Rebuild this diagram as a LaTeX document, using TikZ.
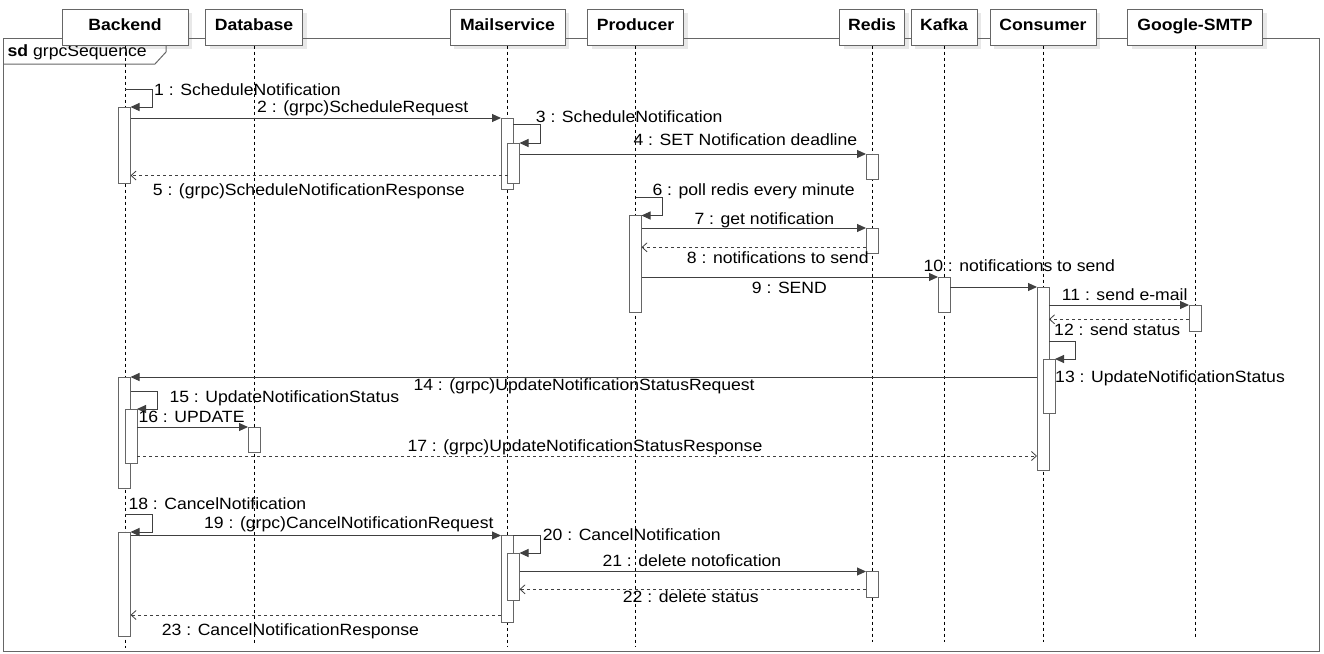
\documentclass[tikz,border=0pt]{standalone}
\usepackage{fontspec}
\setmainfont{Liberation Sans}[FakeStretch=1.08]
\usetikzlibrary{arrows.meta}
\definecolor{linec}{HTML}{404040}
\definecolor{boxc}{HTML}{666666}
\definecolor{shadowc}{HTML}{E8E8E8}
\definecolor{txt}{HTML}{000000}
\begin{document}
\begin{tikzpicture}[x=1pt,y=-1pt,
  head/.style={draw=boxc, fill=white, line width=1pt, minimum height=36pt, inner sep=0pt},
  headtxt/.style={anchor=base, inner sep=0pt, text=txt, font=\bfseries\fontsize{16.3}{18}\selectfont},
  life/.style={draw=black, line width=0.8pt, dash pattern=on 3pt off 3pt},
  act/.style={draw=boxc, fill=white, line width=1pt, minimum width=12pt, inner sep=0pt, outer sep=0pt},
  msg/.style={draw=linec, line width=1pt, -{Triangle[length=9pt,width=8pt]}},
  ret/.style={draw=linec, line width=0.8pt, dash pattern=on 3pt off 3pt, -{Straight Barb[length=5pt,width=9pt,line width=0.8pt]}},
  lbl/.style={anchor=base west, inner sep=0pt, text=txt, font=\fontsize{16.3}{18}\selectfont},
  framec/.style={draw=boxc, line width=1pt},
]
\useasboundingbox (0,0) rectangle (1324,653);
% shadows
\foreach \w/\x in {126/125, 97/254, 115/507.5, 96/635.5, 65/872, 66/944, 106/1043, 135/1195}{
  \fill[shadowc] ({\x-\w/2+4},13) rectangle ({\x+\w/2+4},49);
}
% frame
\draw[framec] (3,38) rectangle (1319,651);
\draw[framec] (3,64) -- (155,64) -- (166,52) -- (166,38);
\node[lbl] (sd) at (7.5,56.5) {\textbf{sd} grpcSequence};
% header boxes
\path
  (125,27)    node[head, minimum width=126pt] (hB) {}
  (254,27)    node[head, minimum width=97pt]  (hD) {}
  (507.5,27)  node[head, minimum width=115pt] (hM) {}
  (635.5,27)  node[head, minimum width=96pt]  (hP) {}
  (872,27)    node[head, minimum width=65pt]  (hR) {}
  (944,27)    node[head, minimum width=66pt]  (hK) {}
  (1043,27)   node[head, minimum width=106pt] (hC) {}
  (1195,27)   node[head, minimum width=135pt] (hG) {};
\foreach \n/\t in {hB/Backend, hD/Database, hM/Mailservice, hP/Producer, hR/Redis, hK/Kafka, hC/Consumer, hG/Google-SMTP}{
  \node[headtxt] at ([yshift=-3.7pt]\n.center) {\t};
}
% lifelines
\draw[life] (hB.south) -- (125,648);
\draw[life] (hD.south) -- (254,643);
\draw[life] (hM.south) -- (507.5,647);
\draw[life] (hP.south) -- (635.5,646);
\draw[life] (hR.south) -- (872,642);
\draw[life] (hK.south) -- (944,642);
\draw[life] (hC.south) -- (1043,642);
\draw[life] (hG.south) -- (1195,637);
% activation bars
\newcommand\actbar[4]{\node[act, minimum height={#4-#3}] (#1) at (#2,{(#3+#4)/2}) {};}
\actbar{b1}{124.5}{107}{183}
\actbar{b2}{124.5}{377}{488}
\actbar{b2b}{131}{409}{463}
\actbar{b3}{124.5}{532}{636}
\actbar{d1}{254}{427}{452}
\actbar{m1}{507}{118}{189}
\actbar{m1b}{513.5}{143}{183}
\actbar{m2}{507}{535.5}{622}
\actbar{m2b}{513.5}{553}{600}
\actbar{p1}{635.5}{215.5}{312}
\actbar{r1}{872}{154}{179}
\actbar{r2}{872}{228}{253}
\actbar{r3}{872}{571.5}{597}
\actbar{k1}{944}{277}{312}
\actbar{c1}{1043}{287}{470}
\actbar{c1b}{1049}{359}{413}
\actbar{g1}{1195}{305}{331}
% messages
\draw[msg] (hB.south |- 0,89) -- (152.7,89) -- (152.7,107) -- (b1.north east);
\draw[msg] (b1.east |- 0,118) -- (m1.north west);
\draw[msg] (m1.east |- 0,124.7) -- (540,124.7) -- (540,143) -- (m1b.north east);
\draw[msg] (m1b.east |- 0,154) -- (r1.north west);
\draw[ret] (m1b.west |- 0,175.5) -- (b1.east |- 0,175.5);
\draw[msg] (hP.south |- 0,197.3) -- (662.3,197.3) -- (662.3,215.5) -- (p1.north east);
\draw[msg] (p1.east |- 0,228) -- (r2.north west);
\draw[ret] (r2.west |- 0,247.3) -- (p1.east |- 0,247.3);
\draw[msg] (p1.east |- 0,277) -- (k1.north west);
\draw[msg] (k1.east |- 0,287) -- (c1.north west);
\draw[msg] (c1.east |- 0,305) -- (g1.north west);
\draw[ret] (g1.west |- 0,319.3) -- (c1.east |- 0,319.3);
\draw[msg] (c1.east |- 0,341.3) -- (1075,341.3) -- (1075,359) -- (c1b.north east);
\draw[msg] (c1.west |- 0,377) -- (b2.north east);
\draw[msg] (b2.east |- 0,391.7) -- (157.3,391.7) -- (157.3,409) -- (b2b.north east);
\draw[msg] (b2b.east |- 0,427) -- (d1.north west);
\draw[ret] (b2b.east |- 0,456) -- (c1.west |- 0,456);
\draw[msg] (hB.south |- 0,514) -- (152.3,514) -- (152.3,532) -- (b3.north east);
\draw[msg] (b3.east |- 0,535.5) -- (m2.north west);
\draw[msg] (m2.east |- 0,535.7) -- (540,535.7) -- (540,553) -- (m2b.north east);
\draw[msg] (m2b.east |- 0,571.5) -- (r3.north west);
\draw[ret] (r3.west |- 0,589.3) -- (m2b.east |- 0,589.3);
\draw[ret] (m2.west |- 0,615) -- (b3.east |- 0,615);
% labels
\node[lbl] (t1)  at (154,95)    {1 : ScheduleNotification};
\node[lbl] (t2)  at (257,112)   {2 : (grpc)ScheduleRequest};
\node[lbl] (t3)  at (535.7,122.7) {3 : ScheduleNotification};
\node[lbl] (t4)  at (633.3,145) {4 : SET Notification deadline};
\node[lbl] (t5)  at (152.7,195) {5 : (grpc)ScheduleNotificationResponse};
\node[lbl] (t6)  at (652.3,195) {6 : poll redis every minute};
\node[lbl] (t7)  at (694.3,224) {7 : get notification};
\node[lbl] (t8)  at (686.7,263.3) {8 : notifications to send};
\node[lbl] (t9)  at (751.7,293.3) {9 : SEND};
\node[lbl] (t10) at (923.3,271.7) {10 : notifications to send};
\node[lbl] (t11) at (1061.7,300.7) {11 : send e-mail};
\node[lbl] (t12) at (1054,335.7) {12 : send status};
\node[lbl] (t13) at (1055,382.7) {13 : UpdateNotificationStatus};
\node[lbl] (t14) at (413.3,390.7) {14 : (grpc)UpdateNotificationStatusRequest};
\node[lbl] (t15) at (169.3,402.3) {15 : UpdateNotificationStatus};
\node[lbl] (t16) at (138.3,422.3) {16 : UPDATE};
\node[lbl] (t17) at (407.3,451.7) {17 : (grpc)UpdateNotificationStatusResponse};
\node[lbl] (t18) at (128.3,509.3) {18 : CancelNotification};
\node[lbl] (t19) at (204,528.3) {19 : (grpc)CancelNotificationRequest};
\node[lbl] (t20) at (542.7,540.7) {20 : CancelNotification};
\node[lbl] (t21) at (602.3,566.7) {21 : delete notofication};
\node[lbl] (t22) at (622.7,602.7) {22 : delete status};
\node[lbl] (t23) at (161.7,635) {23 : CancelNotificationResponse};
\end{tikzpicture}
\end{document}
